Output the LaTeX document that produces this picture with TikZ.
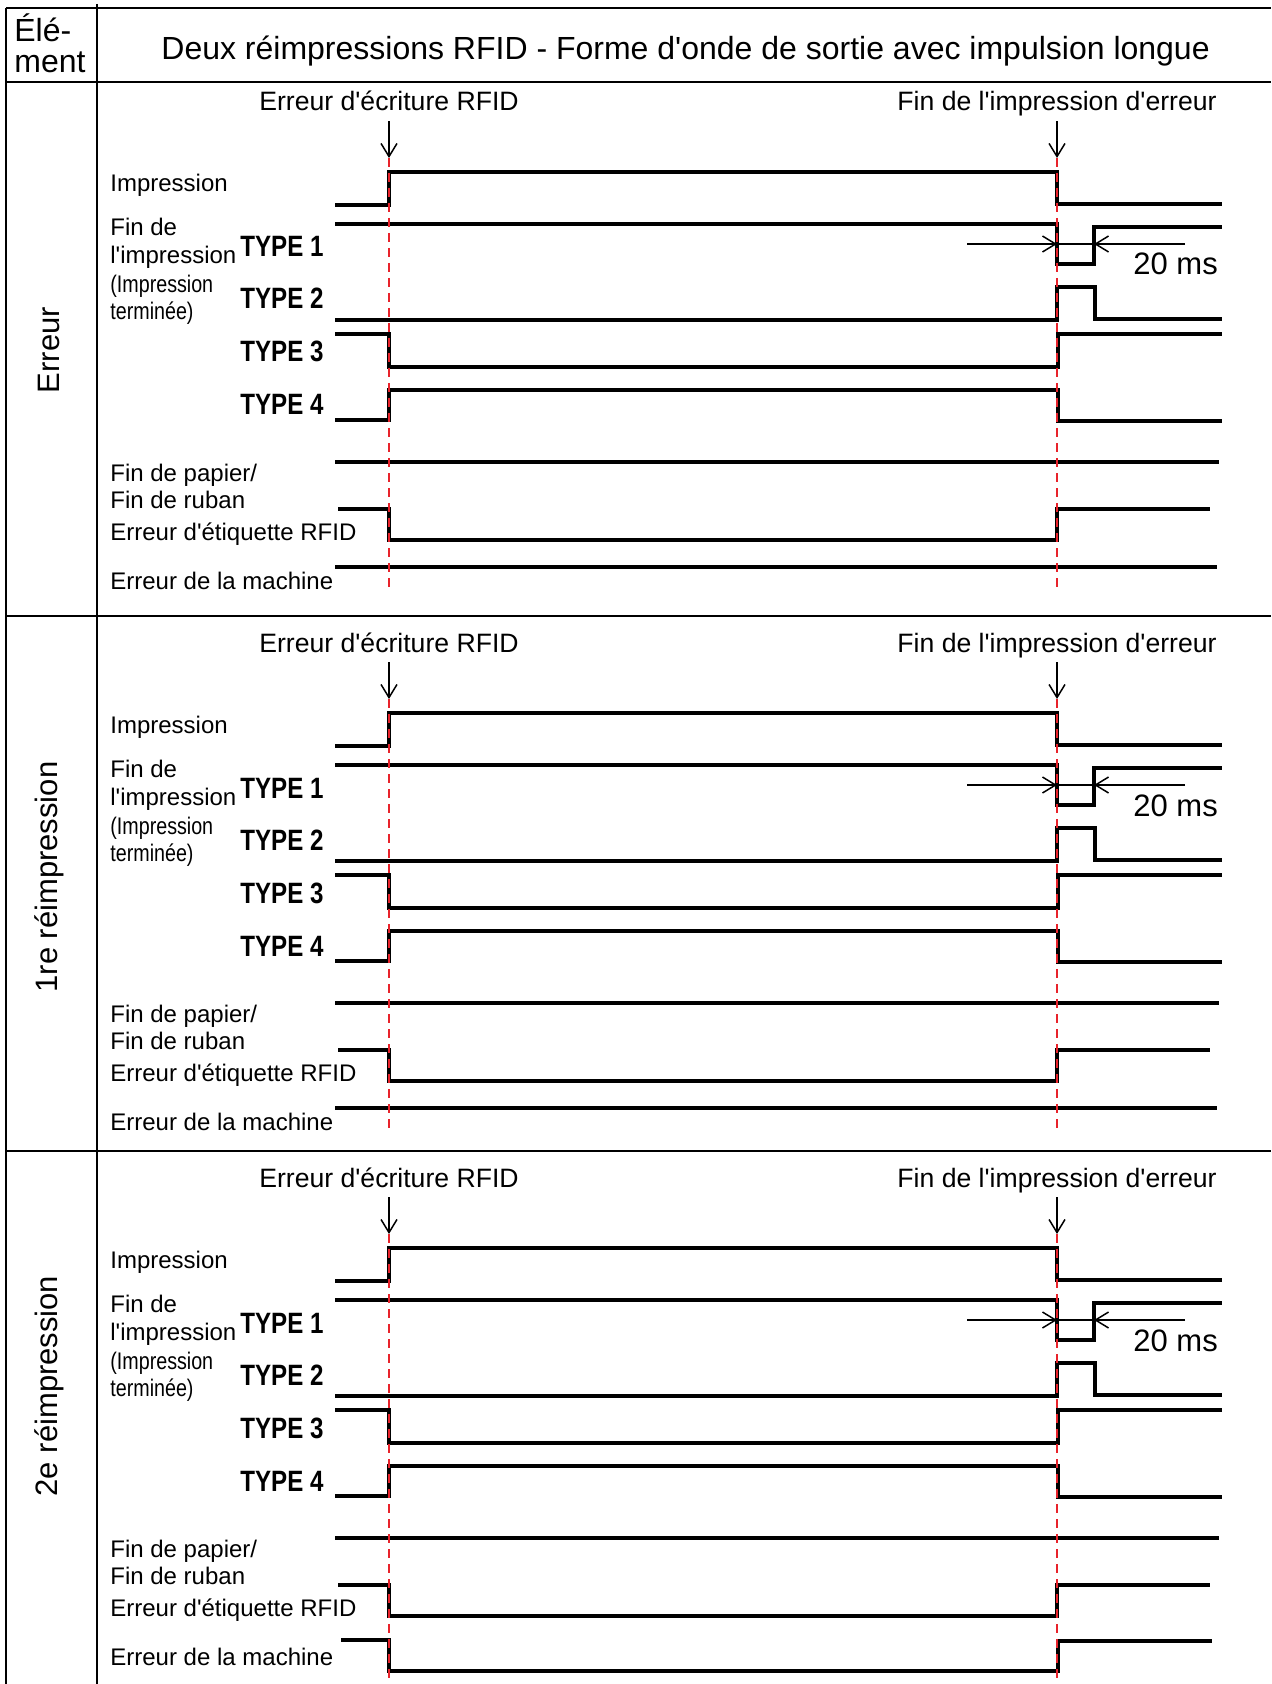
\documentclass[tikz,border=0pt]{standalone}
\usepackage{fontspec}
\setmainfont{Liberation Sans}
\newfontfamily\basefont{Liberation Sans}
\newfontfamily\narrowfont[FakeStretch=0.82]{Liberation Sans}
\usepackage{tikz}
\usetikzlibrary{arrows.meta,positioning,calc}
\definecolor{ink}{HTML}{000000}
\definecolor{alarm}{HTML}{E8232B}
\tikzset{
  >={Straight Barb[length=2.3mm,width=2.8mm]},
  rule/.style={line width=.7pt, color=ink},
  wave/.style={line width=1.9pt, color=ink},
  event/.style={line width=1.2pt, color=alarm, dash pattern=on 4.5pt off 3pt},
  evarrow/.style={->, line width=.75pt, color=ink},
  thinline/.style={line width=.75pt, color=ink},
  titletext/.style={font=\basefont\fontsize{16}{19}\selectfont, inner sep=0pt, anchor=base west},
  rowname/.style={font=\basefont\fontsize{15.5}{18}\selectfont, inner sep=0pt, rotate=90},
  evlbl/.style={font=\basefont\fontsize{13.3}{16}\selectfont, inner sep=0pt, text depth=0pt, anchor=base},
  sig/.style={font=\basefont\fontsize{12}{14}\selectfont, inner sep=0pt, anchor=base west},
  signarrow/.style={font=\narrowfont\fontsize{12}{14}\selectfont, inner sep=0pt, anchor=base west},
  typ/.style={font=\narrowfont\bfseries\fontsize{14.7}{17}\selectfont, inner sep=0pt, anchor=base west},
  dur/.style={font=\basefont\fontsize{15.5}{18}\selectfont, inner sep=0pt, anchor=base west}
}

\begin{document}
\begin{tikzpicture}[x=0.5pt,y=-0.5pt]
  \useasboundingbox (0,0) rectangle (1271,1684);
  \draw[rule] (6,8) -- (1271,8);
  \draw[rule] (6,82) -- (1271,82);
  \draw[rule] (6,616) -- (1271,616);
  \draw[rule] (6,1151) -- (1271,1151);
  \draw[rule] (6,8) -- (6,1684);
  \draw[rule] (97,4) -- (97,1684);
  \node[titletext] (elem1) at (14,42) {Élé-};
  \node[titletext] (elem2) at (14,73) {ment};
  \node[titletext] (title) at (161,60) {Deux réimpressions RFID - Forme d'onde de sortie avec impulsion longue};
  \foreach \s/\dy/\ly/\yend/\name in {1/0/350/593/Erreur, 2/541/336/593/1re réimpression, 3/1076/310/608/2e réimpression}{
    \begin{scope}[shift={(0,\dy)}]
      \node[rowname] (row-\s) at (49,\ly) {\name};
      % events
      \node[evlbl] (wrerr-\s) at (389,111) {Erreur d'écriture RFID};
      \node[evlbl] (prend-\s) at (1057,111) {Fin de l'impression d'erreur};
      \coordinate (ev1-\s) at (389,158);
      \coordinate (ev2-\s) at (1057,158);
      \coordinate (ev1e-\s) at (389,\yend);
      \coordinate (ev2e-\s) at (1057,\yend);
      \draw[evarrow, shorten <=5pt] (wrerr-\s.south) -- (ev1-\s);
      \draw[evarrow, shorten <=5pt] (prend-\s.south) -- (ev2-\s);
      % signal names
      \node[sig] (imp-\s) at (110,192) {Impression};
      \node[sig] (fin-\s) at (110,236) {Fin de};
      \node[sig] (finb-\s) at (110,264) {l'impression};
      \node[signarrow] (done-\s) at (110,293) {(Impression};
      \node[signarrow] (doneb-\s) at (110,320) {terminée)};
      \node[typ] (t1-\s) at (240,257) {TYPE 1};
      \node[typ] (t2-\s) at (240,309) {TYPE 2};
      \node[typ] (t3-\s) at (240,362) {TYPE 3};
      \node[typ] (t4-\s) at (240,415) {TYPE 4};
      \node[sig] (pap-\s) at (110,481) {Fin de papier/};
      \node[sig] (rub-\s) at (110,508) {Fin de ruban};
      \node[sig] (tag-\s) at (110,540) {Erreur d'étiquette RFID};
      \node[sig] (mach-\s) at (110,589) {Erreur de la machine};
      % waveforms
      \draw[wave] (335,205) -- (389,205) -- (389,172) -- (1057,172) -- (1057,204) -- (1222,204);
      \draw[wave] (335,224) -- (1057,224) -- (1057,264) -- (1094,264) -- (1094,227) -- (1222,227);
      \draw[wave] (335,320) -- (1057,320) -- (1057,287) -- (1095,287) -- (1095,319) -- (1222,319);
      \draw[wave] (335,334) -- (389,334) -- (389,367) -- (1058,367) -- (1058,334) -- (1222,334);
      \draw[wave] (335,420) -- (389,420) -- (389,390) -- (1058,390) -- (1058,421) -- (1222,421);
      \draw[wave] (335,462) -- (1219,462);
      \draw[wave] (338,509) -- (389,509) -- (389,540) -- (1057,540) -- (1057,509) -- (1210,509);
      \ifnum\s=3
        \draw[wave] (341,564) -- (389,564) -- (389,595) -- (1058,595) -- (1058,565) -- (1212,565);
      \else
        \draw[wave] (335,567) -- (1217,567);
      \fi
      % 20 ms pulse width
      \coordinate (w20a-\s) at (967,244);
      \coordinate (w20b-\s) at (1185,244);
      \coordinate (w20c-\s) at (1057,244);
      \coordinate (w20d-\s) at (1094,244);
      \draw[evarrow] (w20a-\s) -- (w20c-\s);
      \draw[evarrow] (w20b-\s) -- (w20d-\s);
      \draw[thinline] (w20c-\s) -- (w20d-\s);
      \node[dur] (ms-\s) at (1133,275) {20 ms};
      \draw[event] (ev1-\s) -- (ev1e-\s);
      \draw[event] (ev2-\s) -- (ev2e-\s);
    \end{scope}
  }
\end{tikzpicture}
\end{document}
